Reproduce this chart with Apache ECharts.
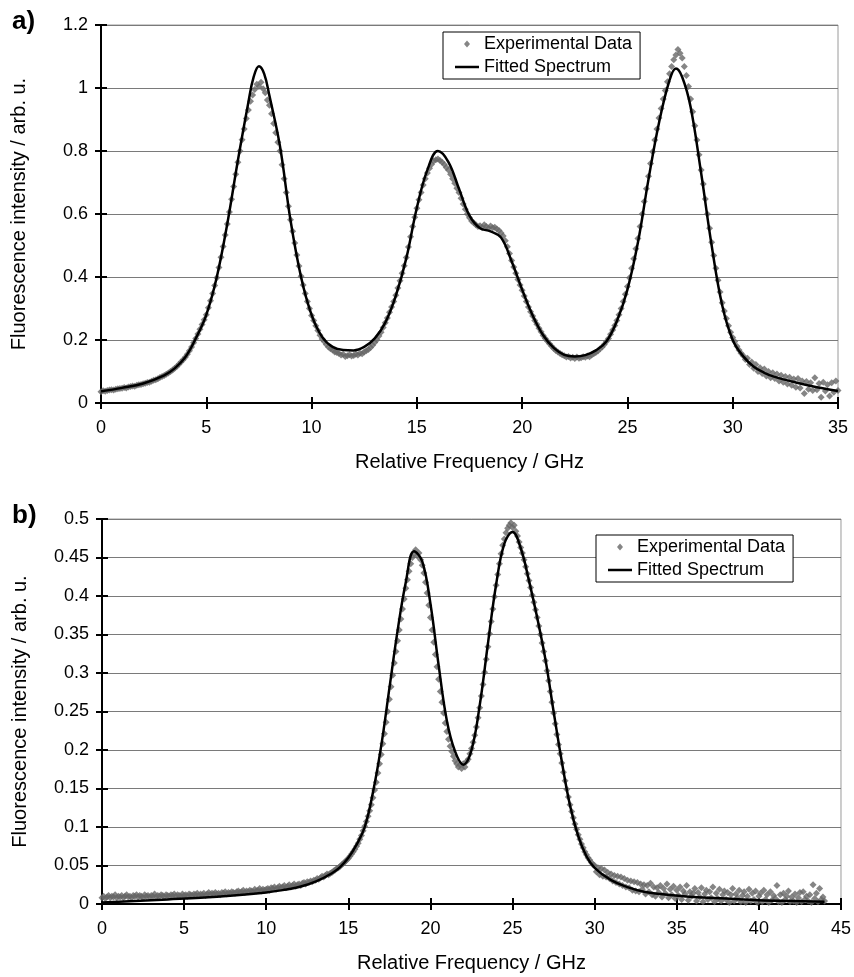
<!DOCTYPE html>
<html><head><meta charset="utf-8">
<script src="https://cdn.jsdelivr.net/npm/echarts@6/dist/echarts.min.js"></script>
<style>html,body{margin:0;padding:0;background:#fff}#c{width:854px;height:977px}</style>
</head><body><div id="c"></div>
<script>
// ---------- Panel a ----------
const xTicksA = [0, 5, 10, 15, 20, 25, 30, 35];
const yTicksA = [0, 0.2, 0.4, 0.6, 0.8, 1, 1.2];
const expA_x0 = 0, expA_step = 0.1; // sampling grid of the measurement (GHz)
const expA = [
0.036,0.039,0.037,0.040,0.041,0.042,0.041,0.044,0.045,0.046,
0.047,0.049,0.048,0.051,0.052,0.054,0.053,0.056,0.058,0.059,
0.061,0.063,0.065,0.066,0.069,0.072,0.074,0.077,0.081,0.084,
0.087,0.091,0.095,0.100,0.105,0.110,0.116,0.123,0.130,0.137,
0.145,0.155,0.166,0.178,0.191,0.205,0.219,0.234,0.249,0.264,
0.280,0.302,0.325,0.348,0.373,0.398,0.430,0.463,0.497,0.533,
0.568,0.606,0.647,0.687,0.726,0.764,0.800,0.836,0.870,0.903,
0.930,0.958,0.978,0.995,1.012,1.005,1.018,0.998,0.985,0.962,
0.945,0.918,0.887,0.858,0.828,0.800,0.756,0.712,0.668,0.625,
0.582,0.545,0.508,0.470,0.435,0.402,0.375,0.348,0.322,0.300,
0.278,0.262,0.245,0.230,0.215,0.203,0.195,0.186,0.178,0.172,
0.168,0.162,0.160,0.157,0.152,0.155,0.148,0.150,0.153,0.149,
0.151,0.155,0.152,0.158,0.156,0.162,0.166,0.170,0.176,0.183,
0.192,0.201,0.213,0.225,0.240,0.255,0.270,0.288,0.305,0.322,
0.342,0.365,0.388,0.412,0.436,0.462,0.495,0.528,0.560,0.590,
0.618,0.645,0.668,0.692,0.712,0.730,0.745,0.758,0.768,0.772,
0.775,0.770,0.764,0.757,0.748,0.740,0.726,0.712,0.698,0.682,
0.668,0.650,0.632,0.615,0.600,0.588,0.578,0.572,0.566,0.560,
0.563,0.557,0.566,0.560,0.555,0.562,0.556,0.558,0.552,0.548,
0.540,0.530,0.515,0.496,0.475,0.452,0.432,0.412,0.392,0.375,
0.358,0.340,0.322,0.305,0.290,0.276,0.262,0.250,0.237,0.226,
0.214,0.205,0.196,0.188,0.180,0.173,0.167,0.162,0.157,0.153,
0.150,0.146,0.148,0.143,0.145,0.141,0.146,0.142,0.144,0.147,
0.145,0.149,0.147,0.152,0.156,0.160,0.165,0.172,0.178,0.186,
0.195,0.205,0.218,0.232,0.246,0.262,0.280,0.300,0.322,0.345,
0.370,0.398,0.428,0.458,0.490,0.522,0.560,0.600,0.640,0.680,
0.720,0.760,0.798,0.835,0.870,0.905,0.935,0.965,0.992,1.020,
1.045,1.068,1.090,1.105,1.122,1.110,1.095,1.068,1.040,1.005,
0.965,0.925,0.880,0.835,0.788,0.740,0.695,0.648,0.600,0.555,
0.510,0.468,0.428,0.390,0.352,0.318,0.292,0.268,0.245,0.225,
0.208,0.195,0.180,0.168,0.158,0.150,0.138,0.142,0.122,0.130,
0.110,0.122,0.100,0.112,0.094,0.108,0.086,0.100,0.080,0.096,
0.078,0.092,0.070,0.088,0.066,0.084,0.060,0.082,0.056,0.076,
0.050,0.078,0.048,0.070,0.030,0.068,0.044,0.064,0.040,0.080,
0.042,0.062,0.018,0.066,0.038,0.058,0.022,0.064,0.034,0.070,
0.040];
const fitA_x = [0,1,2,3,3.5,4,4.5,5,5.5,6,6.5,7,7.25,7.5,7.75,8,8.5,9,9.5,10,10.5,11,11.5,12,12.5,13,13.5,14,14.5,15,15.5,16,16.5,17,17.5,18,18.5,19,19.5,20,20.5,21,21.5,22,22.5,23,23.5,24,24.5,25,25.5,26,26.5,27,27.3,27.6,28,28.5,29,29.5,30,30.5,31,31.5,32,33,34,35];
const fitA_y = [0.037,0.048,0.062,0.088,0.11,0.145,0.205,0.28,0.40,0.57,0.77,0.955,1.035,1.069,1.045,0.975,0.815,0.58,0.40,0.28,0.21,0.178,0.168,0.167,0.178,0.205,0.255,0.34,0.46,0.62,0.74,0.80,0.765,0.68,0.595,0.555,0.545,0.525,0.45,0.36,0.278,0.215,0.175,0.153,0.148,0.152,0.167,0.195,0.26,0.36,0.51,0.71,0.89,1.025,1.062,1.035,0.94,0.73,0.50,0.31,0.20,0.148,0.115,0.096,0.083,0.065,0.05,0.038];

// ---------- Panel b ----------
const xTicksB = [0, 5, 10, 15, 20, 25, 30, 35, 40, 45];
const yTicksB = [0, 0.05, 0.1, 0.15, 0.2, 0.25, 0.3, 0.35, 0.4, 0.45, 0.5];
const expB_x0 = 0, expB_step = 0.1;
const expB = [
0.008,0.010,0.007,0.009,0.011,0.008,0.010,0.009,0.012,0.008,
0.010,0.009,0.011,0.008,0.010,0.012,0.009,0.010,0.008,0.011,
0.010,0.012,0.009,0.011,0.010,0.008,0.012,0.010,0.011,0.009,
0.011,0.010,0.013,0.009,0.011,0.010,0.012,0.011,0.009,0.012,
0.011,0.010,0.012,0.011,0.013,0.010,0.012,0.011,0.010,0.013,
0.011,0.012,0.010,0.013,0.012,0.011,0.013,0.012,0.014,0.011,
0.013,0.012,0.014,0.011,0.013,0.015,0.012,0.014,0.013,0.015,
0.013,0.014,0.012,0.015,0.014,0.016,0.013,0.015,0.014,0.016,
0.015,0.014,0.016,0.017,0.015,0.016,0.018,0.015,0.017,0.016,
0.018,0.017,0.016,0.019,0.017,0.018,0.020,0.017,0.019,0.018,
0.019,0.020,0.018,0.021,0.020,0.022,0.019,0.021,0.023,0.021,
0.022,0.024,0.021,0.023,0.025,0.022,0.024,0.026,0.023,0.025,
0.026,0.024,0.027,0.028,0.026,0.029,0.028,0.030,0.029,0.031,
0.031,0.033,0.032,0.034,0.036,0.035,0.037,0.039,0.038,0.040,
0.041,0.043,0.044,0.046,0.047,0.049,0.051,0.053,0.055,0.057,
0.059,0.062,0.065,0.068,0.071,0.075,0.079,0.084,0.089,0.095,
0.101,0.107,0.114,0.121,0.129,0.138,0.148,0.158,0.170,0.182,
0.194,0.208,0.221,0.236,0.250,0.266,0.282,0.297,0.313,0.328,
0.342,0.356,0.370,0.383,0.396,0.410,0.421,0.432,0.442,0.450,
0.455,0.460,0.452,0.456,0.447,0.440,0.430,0.418,0.404,0.388,
0.372,0.356,0.340,0.324,0.308,0.292,0.276,0.262,0.248,0.235,
0.224,0.214,0.205,0.198,0.192,0.186,0.182,0.178,0.181,0.176,
0.182,0.178,0.185,0.188,0.195,0.202,0.210,0.219,0.230,0.242,
0.255,0.270,0.285,0.301,0.318,0.334,0.351,0.367,0.383,0.399,
0.414,0.428,0.442,0.455,0.466,0.474,0.482,0.488,0.492,0.495,
0.489,0.492,0.484,0.478,0.470,0.463,0.456,0.447,0.438,0.429,
0.420,0.411,0.401,0.392,0.382,0.372,0.361,0.350,0.339,0.328,
0.316,0.303,0.290,0.276,0.262,0.248,0.234,0.220,0.207,0.195,
0.183,0.171,0.160,0.149,0.139,0.129,0.120,0.112,0.104,0.097,
0.090,0.084,0.078,0.073,0.068,0.064,0.060,0.057,0.054,0.051,
0.050,0.042,0.047,0.038,0.046,0.036,0.044,0.035,0.041,0.033,
0.039,0.030,0.037,0.028,0.036,0.026,0.035,0.024,0.033,0.022,
0.031,0.021,0.030,0.018,0.029,0.017,0.028,0.016,0.026,0.019,
0.025,0.013,0.024,0.016,0.027,0.012,0.022,0.010,0.021,0.015,
0.024,0.009,0.020,0.014,0.026,0.008,0.019,0.012,0.023,0.007,
0.018,0.011,0.022,0.006,0.017,0.013,0.024,0.005,0.016,0.010,
0.014,0.020,0.004,0.015,0.009,0.021,0.003,0.013,0.018,0.006,
0.016,0.008,0.022,0.003,0.014,0.007,0.019,0.004,0.012,0.017,
0.006,0.015,0.002,0.012,0.020,0.004,0.013,0.008,0.018,0.003,
0.011,0.016,0.002,0.010,0.019,0.004,0.014,0.006,0.017,0.002,
0.010,0.014,0.003,0.018,0.006,0.012,0.002,0.016,0.005,0.011,
0.007,0.024,0.003,0.012,0.002,0.014,0.006,0.010,0.017,0.003,
0.009,0.004,0.013,0.002,0.008,0.015,0.003,0.016,0.006,0.010,
0.004,0.012,0.002,0.025,0.007,0.014,0.003,0.020,0.006,0.009,
0.004];
const fitB_x = [0,2,4,6,8,10,11,12,13,14,14.5,15,15.5,16,16.5,17,17.5,18,18.5,19,19.5,20,20.5,21,21.5,22,22.5,23,23.5,24,24.5,25,25.5,26,26.5,27,27.5,28,28.5,29,29.5,30,31,32,33,34,36,38,40,42,44];
const fitB_y = [0.002,0.004,0.006,0.008,0.011,0.015,0.018,0.022,0.029,0.040,0.048,0.060,0.077,0.100,0.145,0.205,0.280,0.355,0.418,0.458,0.445,0.390,0.310,0.238,0.198,0.181,0.200,0.258,0.338,0.415,0.468,0.483,0.462,0.420,0.372,0.318,0.250,0.185,0.128,0.088,0.062,0.047,0.031,0.022,0.016,0.013,0.009,0.007,0.005,0.004,0.003];

const seriesNames = ['Experimental Data', 'Fitted Spectrum'];
const xTitle = 'Relative Frequency / GHz';
const yTitle = 'Fluorescence intensity / arb. u.';

// ---------- build ----------
const FONT = '"Liberation Sans", Arial, sans-serif';
const expPairs = (arr, x0, step) => arr.map((y, i) => [+(x0 + i * step).toFixed(2), y]);
const zip = (xs, ys) => xs.map((x, i) => [x, ys[i]]);

function mainX(grid, ticks) {
  return {
    gridIndex: grid, type: 'value', position: 'bottom',
    min: ticks[0], max: ticks[ticks.length - 1], interval: ticks[1] - ticks[0],
    axisLine: { show: true, onZero: false, lineStyle: { color: '#000', width: 2 } },
    axisTick: { show: true, length: 6, lineStyle: { color: '#000', width: 2 } },
    axisLabel: { show: true, margin: 16, color: '#000', fontSize: 18, fontFamily: FONT },
    splitLine: { show: false },
    name: xTitle, nameLocation: 'middle', nameGap: 49,
    nameTextStyle: { color: '#000', fontSize: 20, fontFamily: FONT }
  };
}
function innerX(grid, ticks) {
  return {
    gridIndex: grid, type: 'value', position: 'bottom',
    min: ticks[0], max: ticks[ticks.length - 1], interval: ticks[1] - ticks[0],
    axisLine: { show: false, onZero: false },
    axisTick: { show: true, inside: true, length: 6, lineStyle: { color: '#000', width: 2 } },
    axisLabel: { show: false }, splitLine: { show: false }
  };
}
function mainY(grid, ticks) {
  return {
    gridIndex: grid, type: 'value', position: 'left',
    min: ticks[0], max: ticks[ticks.length - 1], interval: ticks[1] - ticks[0],
    axisLine: { show: true, onZero: false, lineStyle: { color: '#000', width: 2 } },
    axisTick: { show: true, length: 6, lineStyle: { color: '#000', width: 2 } },
    axisLabel: { show: true, margin: 13, color: '#000', fontSize: 18, fontFamily: FONT },
    splitLine: { show: true, lineStyle: { color: '#7a7a7a', width: 1.2 } },
    name: yTitle, nameLocation: 'middle', nameGap: 72, nameRotate: 90,
    nameTextStyle: { color: '#000', fontSize: 20, fontFamily: FONT }
  };
}
function innerY(grid, ticks) {
  return {
    gridIndex: grid, type: 'value', position: 'left',
    min: ticks[0], max: ticks[ticks.length - 1], interval: ticks[1] - ticks[0],
    axisLine: { show: false, onZero: false },
    axisTick: { show: true, inside: true, length: 6, lineStyle: { color: '#000', width: 2 } },
    axisLabel: { show: false }, splitLine: { show: false }
  };
}
// legend icons: small diamond centred in a wide box (zero-area end caps only widen the box), and a plain bar for the line
const DIAMOND_ICON = 'path://M0,5L0.001,5L0,5ZM24,5L23.999,5L24,5ZM12,1.5L15,5L12,8.5L9,5Z';
const LINE_ICON = 'path://M0,3.75L24,3.75L24,6.25L0,6.25Z';
function legendAt(left, top) {
  return {
    left: left, top: top, orient: 'vertical',
    data: [{ name: seriesNames[0], icon: DIAMOND_ICON }, { name: seriesNames[1], icon: LINE_ICON }],
    itemWidth: 24, itemHeight: 7, itemGap: 5,
    padding: [3, 8, 3, 12],
    borderColor: '#000', borderWidth: 1, backgroundColor: '#fff',
    textStyle: { color: '#000', fontSize: 18, fontFamily: FONT },
    selectedMode: false
  };
}
const expStyle = { color: '#676767' };
const option = {
  animation: false,
  backgroundColor: '#fff',
  title: [
    { text: 'a)', left: 12, top: 9, padding: 0, textStyle: { fontSize: 26, fontWeight: 'bold', color: '#000', fontFamily: FONT } },
    { text: 'b)', left: 12, top: 503, padding: 0, textStyle: { fontSize: 26, fontWeight: 'bold', color: '#000', fontFamily: FONT } }
  ],
  grid: [
    { left: 101, right: 16, top: 25, height: 378, show: true, borderColor: '#9a9a9a', borderWidth: 1, backgroundColor: '#fff' },
    { left: 102, right: 13, top: 519, height: 385, show: true, borderColor: '#9a9a9a', borderWidth: 1, backgroundColor: '#fff' }
  ],
  xAxis: [mainX(0, xTicksA), innerX(0, xTicksA), mainX(1, xTicksB), innerX(1, xTicksB)],
  yAxis: [mainY(0, yTicksA), innerY(0, yTicksA), mainY(1, yTicksB), innerY(1, yTicksB)],
  legend: [legendAt(443, 32), legendAt(596, 535)],
  series: [
    { name: seriesNames[0], type: 'scatter', xAxisIndex: 0, yAxisIndex: 0, symbol: 'diamond', symbolSize: 7,
      itemStyle: expStyle, data: expPairs(expA, expA_x0, expA_step), z: 2 },
    { name: seriesNames[1], type: 'line', xAxisIndex: 0, yAxisIndex: 0, symbol: 'none', showSymbol: false, smooth: 0.4,
      lineStyle: { color: '#000', width: 2.5 }, itemStyle: { color: '#000' }, data: zip(fitA_x, fitA_y), z: 3 },
    { name: seriesNames[0], type: 'scatter', xAxisIndex: 2, yAxisIndex: 2, symbol: 'diamond', symbolSize: 7,
      itemStyle: expStyle, data: expPairs(expB, expB_x0, expB_step), z: 2 },
    { name: seriesNames[1], type: 'line', xAxisIndex: 2, yAxisIndex: 2, symbol: 'none', showSymbol: false, smooth: 0.4,
      lineStyle: { color: '#000', width: 2.5 }, itemStyle: { color: '#000' }, data: zip(fitB_x, fitB_y), z: 3 }
  ]
};
const chart = echarts.init(document.getElementById('c'), null, { renderer: 'canvas' });
chart.setOption(option);
</script></body></html>
